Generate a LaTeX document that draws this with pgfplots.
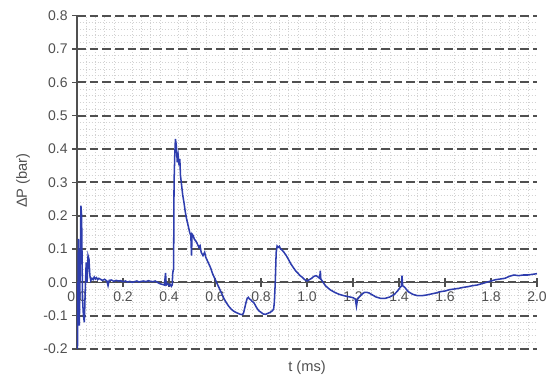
\documentclass[border=0pt]{standalone}
\usepackage{fontspec}
\setmainfont{Liberation Sans}
\usepackage{pgfplots}
\pgfplotsset{compat=1.18}
\definecolor{tickc}{HTML}{505050}
\definecolor{linec}{HTML}{2E3DAE}
\pgfplotstableread{
t P
0.000 0.00
0.002 -0.20
0.006 0.13
0.010 -0.13
0.014 0.05
0.017 0.23
0.020 0.20
0.024 -0.05
0.028 -0.10
0.032 -0.12
0.036 -0.02
0.040 0.06
0.044 0.00
0.048 0.08
0.052 0.07
0.056 0.02
0.060 0.005
0.065 0.012
0.070 0.008
0.075 0.016
0.080 0.010
0.085 0.014
0.090 0.008
0.095 0.012
0.100 0.010
0.110 0.006
0.120 0.009
0.130 0.004
0.135 -0.010
0.140 0.006
0.150 0.007
0.160 0.003
0.170 0.006
0.180 0.004
0.190 0.005
0.200 0.002
0.210 0.004
0.220 0.001
0.230 0.003
0.240 0.000
0.250 0.002
0.260 0.004
0.270 0.001
0.280 0.003
0.290 0.004
0.300 0.002
0.310 0.005
0.320 0.003
0.330 0.002
0.340 0.004
0.350 0.000
0.360 -0.004
0.370 -0.006
0.380 -0.008
0.385 0.028
0.388 -0.008
0.395 -0.004
0.400 -0.010
0.405 -0.006
0.410 -0.012
0.414 -0.008
0.416 0.025
0.418 0.035
0.420 0.040
0.422 0.300
0.425 0.380
0.428 0.430
0.432 0.410
0.436 0.360
0.440 0.380
0.444 0.350
0.447 0.370
0.450 0.320
0.455 0.290
0.460 0.260
0.465 0.240
0.470 0.215
0.475 0.195
0.480 0.180
0.485 0.165
0.490 0.150
0.495 0.140
0.498 0.080
0.500 0.145
0.505 0.140
0.510 0.130
0.520 0.120
0.530 0.105
0.535 0.110
0.540 0.090
0.548 0.080
0.555 0.090
0.560 0.075
0.570 0.060
0.580 0.045
0.590 0.025
0.600 0.010
0.610 -0.005
0.620 -0.020
0.630 -0.035
0.640 -0.050
0.650 -0.062
0.660 -0.072
0.670 -0.080
0.680 -0.086
0.690 -0.090
0.700 -0.093
0.710 -0.096
0.720 -0.097
0.725 -0.090
0.730 -0.075
0.735 -0.060
0.740 -0.048
0.745 -0.045
0.750 -0.050
0.755 -0.052
0.760 -0.056
0.770 -0.062
0.780 -0.075
0.790 -0.085
0.800 -0.090
0.810 -0.095
0.820 -0.096
0.830 -0.093
0.840 -0.090
0.850 -0.085
0.855 -0.080
0.858 -0.060
0.862 0.000
0.866 0.090
0.870 0.109
0.875 0.105
0.880 0.108
0.885 0.100
0.890 0.098
0.900 0.090
0.910 0.080
0.920 0.068
0.930 0.055
0.940 0.045
0.950 0.035
0.960 0.028
0.970 0.020
0.980 0.015
0.990 0.008
1.000 0.004
1.010 0.008
1.020 0.012
1.030 0.018
1.040 0.020
1.050 0.015
1.055 0.012
1.058 0.035
1.060 0.010
1.070 0.000
1.080 -0.010
1.090 -0.016
1.100 -0.022
1.120 -0.030
1.140 -0.036
1.160 -0.040
1.180 -0.043
1.200 -0.046
1.210 -0.050
1.215 -0.072
1.220 -0.050
1.230 -0.042
1.240 -0.035
1.250 -0.030
1.260 -0.030
1.270 -0.032
1.280 -0.036
1.300 -0.044
1.320 -0.048
1.340 -0.048
1.360 -0.044
1.380 -0.036
1.395 -0.025
1.405 -0.015
1.410 -0.012
1.413 0.020
1.416 -0.010
1.425 -0.015
1.440 -0.028
1.460 -0.036
1.480 -0.040
1.500 -0.040
1.520 -0.038
1.540 -0.035
1.560 -0.032
1.580 -0.028
1.600 -0.026
1.620 -0.022
1.640 -0.020
1.660 -0.018
1.680 -0.015
1.700 -0.013
1.720 -0.010
1.740 -0.008
1.760 -0.004
1.780 0.000
1.800 0.004
1.820 0.008
1.840 0.010
1.860 0.012
1.880 0.018
1.900 0.022
1.920 0.020
1.940 0.022
1.960 0.022
1.980 0.024
2.000 0.026
}\datatable
\begin{document}
\begin{tikzpicture}
\path[use as bounding box] (-57.75pt,-21.75pt) rectangle (354.75pt,261.75pt);
\begin{axis}[
  at={(0,0)}, anchor=south west,
  scale only axis, width=345pt, height=250pt,
  xmin=0, xmax=2, ymin=-0.2, ymax=0.8,
  axis x line=middle, axis y line=left,
  hide obscured x ticks=false, hide obscured y ticks=false,
  axis line style={-, draw=tickc, line width=1.1pt},
  xtick={0,0.2,0.4,0.6,0.8,1.0,1.2,1.4,1.6,1.8,2.0},
  ytick={-0.2,-0.1,0,0.1,0.2,0.3,0.4,0.5,0.6,0.7,0.8},
  minor y tick num=4, minor x tick num=4,
  yminorgrids, xminorgrids,
  minor grid style={draw=gray!35, line width=0.4pt, dash pattern=on 0.6pt off 1.6pt},
  extra y ticks={-0.2,-0.1,0,0.1,0.2,0.3,0.4,0.5,0.6,0.7,0.8},
  extra y tick labels={},
  extra y tick style={grid=major, major grid style={draw=tickc, line width=1.5pt, dash pattern=on 6.5pt off 3pt}},
  tick align=center, major tick length=7pt, minor tick length=0pt,
  tick style={draw=tickc, line width=1pt},
  ticklabel style={font=\fontsize{10.5}{12}\selectfont, text=tickc},
  xlabel={t (ms)}, ylabel={ΔP (bar)},
  label style={font=\fontsize{11}{13}\selectfont, text=tickc},
  xlabel style={at={(rel axis cs:0.5,0)}, anchor=center, yshift=-14pt},
  ylabel style={at={(rel axis cs:0,0.505)}, anchor=center, yshift=40.5pt},
  /pgf/number format/assume math mode=true,
  /pgf/number format/.cd, fixed, fixed zerofill, precision=1,
]
\addplot[color=linec, line width=1.15pt, mark=none] table[x=t, y=P] {\datatable};
\end{axis}
\end{tikzpicture}
\end{document}
